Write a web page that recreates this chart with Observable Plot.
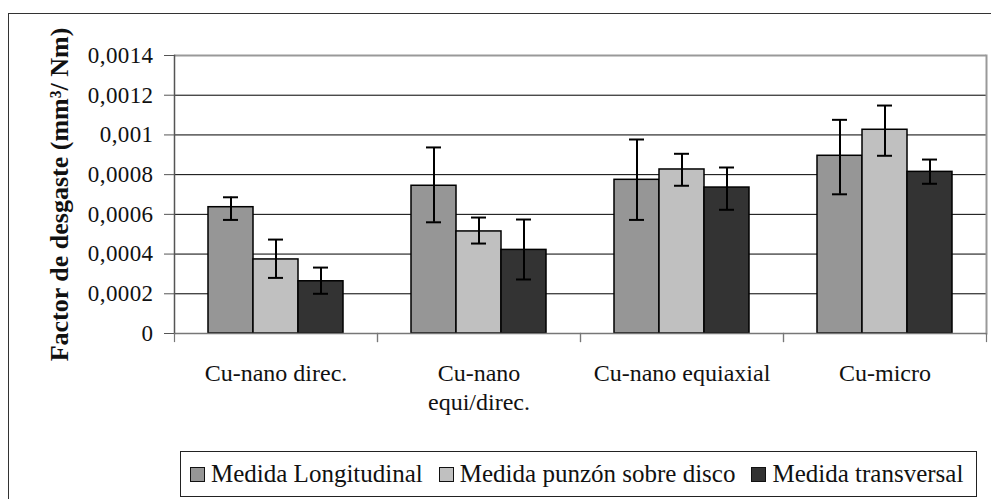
<!DOCTYPE html>
<html>
<head>
<meta charset="utf-8">
<script src="https://cdn.jsdelivr.net/npm/d3@7"></script>
<script src="https://cdn.jsdelivr.net/npm/@observablehq/plot@0.6"></script>
<style>
  html, body { margin: 0; padding: 0; background: #fff; }
  body { width: 991px; height: 499px; overflow: hidden; position: relative; font-family: "Liberation Serif", "Times New Roman", serif; }
  #frame { position: absolute; left: 8px; top: 13px; width: 1000px; height: 520px; border-left: 1.5px solid #333; border-top: 1.5px solid #333; box-sizing: border-box; }
  #chart { position: absolute; left: 0; top: 0; }
  #chart svg { overflow: visible; }
  #chart svg text { font-family: "Liberation Serif", "Times New Roman", serif; font-variant: normal; }
  #chart [aria-label="y-axis tick label"] text { letter-spacing: 0.4px; }
  #chart [aria-label="y-axis label"] text { font-weight: bold; font-size: 26px; }
  #legend { position: absolute; left: 180px; top: 451px; width: 797px; height: 46px; border: 1px solid #222; box-sizing: border-box; background: #fff; display: flex; align-items: center; padding-left: 9px; font-size: 25px; color: #111; white-space: nowrap; }
  .sw { width: 13px; height: 13px; border: 1.5px solid #111; margin-right: 6px; flex: none; }
  .lt { margin-right: 16px; }
</style>
</head>
<body>
<div id="frame"></div>
<div id="chart"></div>
<div id="legend"></div>
<script>
const categories = ["Cu-nano direc.", "Cu-nano equi/direc.", "Cu-nano equiaxial", "Cu-micro"];
const series = ["Medida Longitudinal", "Medida punzón sobre disco", "Medida transversal"];
const colors = ["#969696", "#c0c0c0", "#333333"];

const longitudinal   = [0.000636, 0.000744, 0.000774, 0.000895];
const longitudinalLo = [0.000572, 0.000560, 0.000572, 0.000701];
const longitudinalHi = [0.000686, 0.000937, 0.000977, 0.001076];

const punzon   = [0.000373, 0.000514, 0.000826, 0.001026];
const punzonLo = [0.000280, 0.000453, 0.000744, 0.000895];
const punzonHi = [0.000473, 0.000584, 0.000905, 0.001148];

const transversal   = [0.000263, 0.000421, 0.000735, 0.000814];
const transversalLo = [0.000200, 0.000272, 0.000623, 0.000754];
const transversalHi = [0.000332, 0.000574, 0.000836, 0.000876];

const yTicks = [0, 0.0002, 0.0004, 0.0006, 0.0008, 0.001, 0.0012, 0.0014];
const yTickLabels = ["0", "0,0002", "0,0004", "0,0006", "0,0008", "0,001", "0,0012", "0,0014"];
const yTitle = "Factor de desgaste (mm³/ Nm)";

const values = [longitudinal, punzon, transversal];
const lows = [longitudinalLo, punzonLo, transversalLo];
const highs = [longitudinalHi, punzonHi, transversalHi];

const rows = [];
categories.forEach((c, i) => {
  series.forEach((s, j) => {
    rows.push({cat: c, series: s, value: values[j][i], lo: lows[j][i], hi: highs[j][i]});
  });
});

const gridInner = yTicks.filter(v => v > 0 && v < 0.0014);

const plot = Plot.plot({
  width: 991,
  height: 420,
  marginLeft: 173,
  marginRight: 4.3,
  marginTop: 55,
  marginBottom: 87,
  style: {fontFamily: "'Liberation Serif', 'Times New Roman', serif", background: "transparent", color: "#111"},
  fx: {domain: categories, padding: 0, label: null, axis: null},
  x: {domain: series, paddingInner: 0, paddingOuter: 0.744, axis: null},
  y: {domain: [0, 0.0014], axis: null},
  color: {domain: series, range: colors},
  marks: [
    Plot.ruleY(gridInner, {stroke: "#000", strokeWidth: 1}),
    Plot.ruleY([0.0014], {stroke: "#999", strokeWidth: 2}),
    Plot.frame({anchor: "right", stroke: "#999", strokeWidth: 2, fx: () => categories[categories.length - 1]}),
    Plot.barY(rows, {fx: "cat", x: "series", y: "value", fill: "series", stroke: "#000", strokeWidth: 1.5}),
    Plot.ruleY([0], {stroke: "#777", strokeWidth: 1.5}),
    Plot.frame({anchor: "left", stroke: "#555", strokeWidth: 1.5, fx: () => categories[0]}),
    Plot.frame({anchor: "left", stroke: "#777", strokeWidth: 1.2, insetTop: 278, insetBottom: -8}),
    Plot.frame({anchor: "right", stroke: "#777", strokeWidth: 1.2, insetTop: 278, insetBottom: -8}),
    Plot.ruleX(rows, {fx: "cat", x: "series", y1: "lo", y2: "hi", stroke: "#000", strokeWidth: 2}),
    Plot.tickY(rows, {fx: "cat", x: "series", y: "hi", stroke: "#000", strokeWidth: 2, insetLeft: 15, insetRight: 15}),
    Plot.tickY(rows, {fx: "cat", x: "series", y: "lo", stroke: "#000", strokeWidth: 2, insetLeft: 15, insetRight: 15}),
    Plot.axisY({
      ticks: yTicks,
      tickFormat: d => yTickLabels[yTicks.indexOf(d)],
      tickSize: 10,
      tickPadding: 11,
      fontSize: 23,
      stroke: "#555",
      label: yTitle,
      labelAnchor: "center",
      labelOffset: 125,
      labelArrow: "none"
    }),
    Plot.axisFx({
      anchor: "bottom",
      tickSize: 0,
      tickPadding: 28,
      fontSize: 24,
      lineHeight: 1.17,
      label: null,
      tickFormat: d => d.replace("Cu-nano equi/", "Cu-nano\nequi/")
    })
  ]
});
document.getElementById("chart").appendChild(plot);

const legend = document.getElementById("legend");
series.forEach((s, j) => {
  const sw = document.createElement("span");
  sw.className = "sw";
  sw.style.background = colors[j];
  const t = document.createElement("span");
  t.className = "lt";
  t.textContent = s;
  legend.appendChild(sw);
  legend.appendChild(t);
});
</script>
</body>
</html>
